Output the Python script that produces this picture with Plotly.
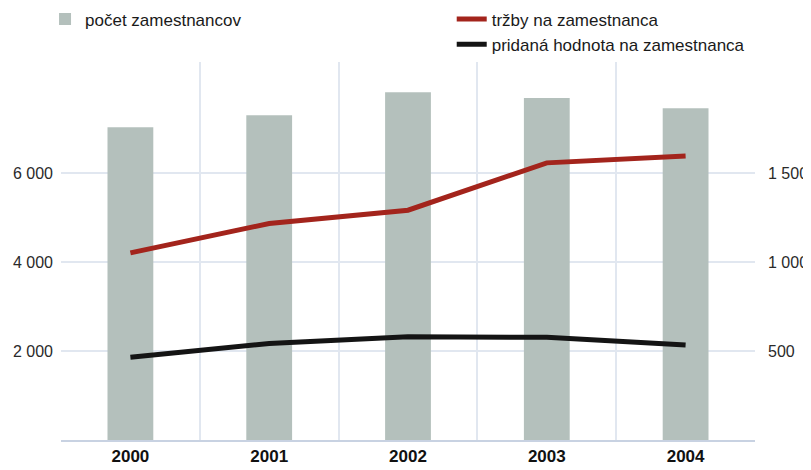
import plotly.graph_objects as go

years = ["2000", "2001", "2002", "2003", "2004"]
zamestnanci = [7030, 7300, 7820, 7690, 7460]
trzby = [1052, 1217, 1292, 1558, 1596]
pridana = [465, 543, 580, 577, 534]

left_ticks = [2000, 4000, 6000]
left_labels = ["2 000", "4 000", "6 000"]
right_ticks = [500, 1000, 1500]
right_labels = ["500", "1 000", "1 500"]

xpos = list(range(len(years)))
FONT = "Liberation Sans, Arial, sans-serif"

fig = go.Figure()
fig.add_trace(go.Bar(
    x=xpos, y=zamestnanci, name="počet zamestnancov",
    marker=dict(color="#b4c0bc", line=dict(width=0)),
    width=0.33, xaxis="x", yaxis="y", legend="legend",
))
fig.add_trace(go.Scatter(
    x=xpos, y=trzby, name="tržby na zamestnanca", mode="lines",
    line=dict(color="#a3241c", width=5),
    xaxis="x2", yaxis="y2", legend="legend2",
))
fig.add_trace(go.Scatter(
    x=xpos, y=pridana, name="pridaná hodnota na zamestnanca", mode="lines",
    line=dict(color="#141414", width=5),
    xaxis="x2", yaxis="y2", legend="legend2",
))

fig.update_layout(
    width=803, height=462,
    margin=dict(l=53, r=56, t=54, b=30, autoexpand=False),
    paper_bgcolor="white", plot_bgcolor="white",
    font=dict(family=FONT, color="#2a2a2a"),
    showlegend=True,
    xaxis=dict(
        range=[-0.5, 4.5], tickvals=xpos, ticktext=years,
        showgrid=False, zeroline=False, ticks="",
        showline=True, linecolor="#c8d2e2", linewidth=2,
        tickfont=dict(family=FONT, size=17, color="#111111", weight="bold"),
    ),
    xaxis2=dict(
        range=[-0.5, 4.5], overlaying="x", tickvals=[0.5, 1.5, 2.5, 3.5],
        showticklabels=False, showgrid=True, gridcolor="#e1e7f0", gridwidth=1.5,
        zeroline=False, ticks="", showline=False,
    ),
    yaxis=dict(
        range=[0, 8500], tickvals=left_ticks, ticktext=left_labels,
        showgrid=True, gridcolor="#e1e7f0", gridwidth=1.5, zeroline=False,
        ticks="", ticklabelstandoff=7,
        tickfont=dict(family=FONT, size=16, color="#2a2a2a"),
    ),
    yaxis2=dict(
        range=[0, 2125], overlaying="y", side="right",
        tickvals=right_ticks, ticktext=right_labels,
        showgrid=False, zeroline=False, ticks="", ticklabelstandoff=12,
        tickfont=dict(family=FONT, size=16, color="#2a2a2a"),
    ),
    legend=dict(
        x=-0.023, y=1.16, xanchor="left", yanchor="top",
        bgcolor="rgba(0,0,0,0)", font=dict(family=FONT, size=17, color="#1a1a1a"),
    ),
    legend2=dict(
        x=0.563, y=1.16, xanchor="left", yanchor="top", tracegroupgap=0,
        bgcolor="rgba(0,0,0,0)", font=dict(family=FONT, size=17, color="#1a1a1a"),
    ),
)

fig.write_html("out.html")
